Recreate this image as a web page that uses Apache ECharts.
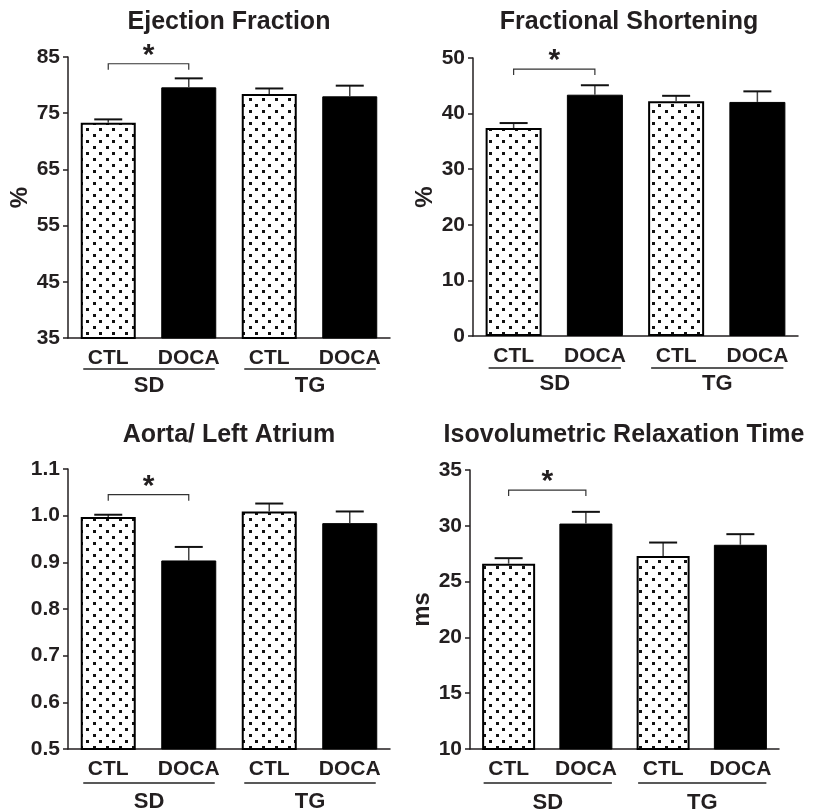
<!DOCTYPE html>
<html>
<head>
<meta charset="utf-8">
<script src="https://cdn.jsdelivr.net/npm/echarts@6/dist/echarts.min.js"></script>
<style>html,body{margin:0;padding:0;background:#fff}#c{width:815px;height:811px}</style>
</head>
<body>
<div id="c"></div>
<script>
// ---- data ----
const categories = ['CTL', 'DOCA', 'CTL', 'DOCA'];
const groupLabels = ['SD', 'TG'];
const titles = ['Ejection Fraction', 'Fractional Shortening', 'Aorta/ Left Atrium', 'Isovolumetric Relaxation Time'];
const yNames = ['%', '%', '', 'ms'];

const efMean = [73.3, 79.6, 78.4, 78.0];
const efSem = [0.6, 1.6, 1.0, 1.9];
const fsMean = [37.4, 43.4, 42.2, 42.1];
const fsSem = [0.9, 1.7, 1.0, 1.9];
const laMean = [0.997, 0.904, 1.009, 0.984];
const laSem = [0.005, 0.029, 0.017, 0.025];
const ivrtMean = [26.6, 30.2, 27.3, 28.3];
const ivrtSem = [0.5, 1.05, 1.2, 0.95];

const yMin = [35, 0, 0.5, 10];
const yMax = [85, 50, 1.1, 35];
const yStep = [10, 10, 0.1, 5];
const yDecimals = [0, 0, 1, 0];

// significance bracket: [from category, to category, level]
const sigBrackets = [[0, 1, 83.8], [0, 1, 48.0], [0, 1, 1.045], [0, 1, 33.2]];

// ---- layout / style ----
const FONT = '"Liberation Sans", Arial, Helvetica, sans-serif';
const TXT = '#231f20';
const layout = [
  {left: 68, top: 57, width: 322, height: 281, barW: 55, grpLine: 31, grpLabel: 48, titleX: 229, titleY: 10, nameGap: 36},
  {left: 473, top: 58, width: 325, height: 278, barW: 56, grpLine: 32, grpLabel: 48, titleX: 629, titleY: 10, nameGap: 36},
  {left: 68, top: 469, width: 322, height: 280, barW: 55, grpLine: 34, grpLabel: 53, titleX: 229, titleY: 423, nameGap: 36},
  {left: 470, top: 470, width: 309, height: 279, barW: 53, grpLine: 34, grpLabel: 54, titleX: 624, titleY: 423, nameGap: 33}
];

function makeDots() {
  const c = document.createElement('canvas');
  c.width = 13; c.height = 12;
  const g = c.getContext('2d');
  g.fillStyle = '#fff'; g.fillRect(0, 0, 13, 12);
  g.fillStyle = '#111';
  g.fillRect(2, 2, 3, 3);
  g.fillRect(8, 8, 3, 3);
  return c;
}
const dotPattern = {image: makeDots(), repeat: 'repeat'};
const ctlStyle = {color: dotPattern, borderColor: '#000', borderWidth: 2};
const docaStyle = {color: '#000', borderColor: '#000', borderWidth: 1};

const means = [efMean, fsMean, laMean, ivrtMean];
const sems = [efSem, fsSem, laSem, ivrtSem];

const grids = [], xAxes = [], yAxes = [], series = [], titleOpts = [];

layout.forEach((L, k) => {
  grids.push({left: L.left, top: L.top, width: L.width, height: L.height, containLabel: false});
  titleOpts.push({
    text: titles[k], left: L.titleX, top: L.titleY, textAlign: 'center', padding: 0,
    textStyle: {fontFamily: FONT, fontWeight: 'bold', fontSize: 25, color: TXT}
  });
  xAxes.push({
    type: 'category', gridIndex: k, data: categories,
    axisLine: {lineStyle: {color: TXT, width: 1.5}},
    axisTick: {alignWithLabel: true, length: 6, lineStyle: {color: '#444', width: 1.2}},
    axisLabel: {fontFamily: FONT, fontWeight: 'bold', fontSize: 21, color: TXT, margin: 10, interval: 0}
  });
  const dec = yDecimals[k];
  yAxes.push({
    type: 'value', gridIndex: k, min: yMin[k], max: yMax[k], interval: yStep[k],
    name: yNames[k], nameLocation: 'middle', nameGap: L.nameGap, nameRotate: 90,
    nameTextStyle: {fontFamily: FONT, fontWeight: 'bold', fontSize: 24, color: TXT},
    axisLine: {show: true, lineStyle: {color: TXT, width: 1.5}},
    axisTick: {show: true, length: 5, lineStyle: {color: TXT, width: 1.5}},
    splitLine: {show: false},
    axisLabel: {fontFamily: FONT, fontWeight: 'bold', fontSize: 21, color: TXT, margin: 8,
      formatter: v => v.toFixed(dec)}
  });
  series.push({
    type: 'bar', xAxisIndex: k, yAxisIndex: k, barWidth: L.barW, animation: false,
    data: means[k].map((m, i) => ({value: m, itemStyle: i % 2 === 0 ? ctlStyle : docaStyle}))
  });
  // error bars (upper only)
  series.push({
    type: 'custom', xAxisIndex: k, yAxisIndex: k, animation: false, z: 5,
    encode: {x: 0, y: 1},
    data: means[k].map((m, i) => [i, m, sems[k][i]]),
    renderItem: (params, api) => {
      const x = api.value(0), m = api.value(1), s = api.value(2);
      const p0 = api.coord([x, m]);
      const p1 = api.coord([x, m + s]);
      return {type: 'group', children: [
        {type: 'line', shape: {x1: p0[0], y1: p0[1], x2: p1[0], y2: p1[1]}, style: {stroke: '#444', lineWidth: 1.5}},
        {type: 'line', shape: {x1: p1[0] - 14, y1: p1[1], x2: p1[0] + 14, y2: p1[1]}, style: {stroke: '#111', lineWidth: 2}}
      ]};
    }
  });
  // significance bracket + star
  series.push({
    type: 'custom', xAxisIndex: k, yAxisIndex: k, animation: false, z: 6,
    encode: {x: [0, 1], y: 2},
    data: [sigBrackets[k]],
    renderItem: (params, api) => {
      const a = api.coord([api.value(0), api.value(2)]);
      const b = api.coord([api.value(1), api.value(2)]);
      return {type: 'group', children: [
        {type: 'polyline', shape: {points: [[a[0], a[1] + 6], [a[0], a[1]], [b[0], b[1]], [b[0], b[1] + 6]]},
          style: {stroke: '#333', lineWidth: 1.2, fill: null}},
        {type: 'text', x: (a[0] + b[0]) / 2, y: a[1] - 8,
          style: {text: '*', fill: TXT, font: 'bold 30px ' + FONT, textAlign: 'center', textVerticalAlign: 'middle',
            align: 'center', verticalAlign: 'middle'}}
      ]};
    }
  });
  // group labels under the axis
  const base = yMin[k];
  series.push({
    type: 'custom', xAxisIndex: k, yAxisIndex: k, animation: false, z: 6,
    encode: {x: [0, 1]},
    data: [[0, 1], [2, 3]],
    renderItem: (params, api) => {
      const a = api.coord([api.value(0), base]);
      const b = api.coord([api.value(1), base]);
      const x1 = a[0] - 25, x2 = b[0] + 26;
      return {type: 'group', children: [
        {type: 'line', shape: {x1: x1, y1: a[1] + L.grpLine, x2: x2, y2: a[1] + L.grpLine}, style: {stroke: '#222', lineWidth: 1.3}},
        {type: 'text', x: (x1 + x2) / 2, y: a[1] + L.grpLabel,
          style: {text: groupLabels[params.dataIndex], fill: TXT, font: 'bold 22px ' + FONT,
            textAlign: 'center', textVerticalAlign: 'middle', align: 'center', verticalAlign: 'middle'}}
      ]};
    }
  });
});

const chart = echarts.init(document.getElementById('c'), null, {renderer: 'canvas'});
chart.setOption({
  animation: false,
  backgroundColor: '#fff',
  title: titleOpts,
  grid: grids,
  xAxis: xAxes,
  yAxis: yAxes,
  series: series
});
</script>
</body>
</html>
